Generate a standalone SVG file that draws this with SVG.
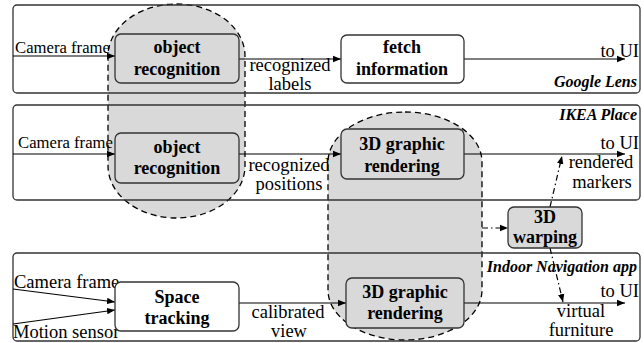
<svg xmlns="http://www.w3.org/2000/svg" width="644" height="343" viewBox="0 0 644 343">
<style>
.blob{fill:#d9d9d9;stroke:#000;stroke-width:1.3;stroke-dasharray:6,4}
.frame{fill:none;stroke:#333;stroke-width:1.3}
.box{stroke:#333;stroke-width:1.3}
.g{fill:#d9d9d9}
.w{fill:#fff}
.bt{font-family:"Liberation Serif",serif;font-weight:bold;font-size:18px;text-anchor:middle;fill:#000}
.lt{font-family:"Liberation Serif",serif;font-size:18.5px;fill:#000}
.sm{font-size:16.7px}
.c{text-anchor:middle}
.r{text-anchor:end}
.tt{font-family:"Liberation Serif",serif;font-weight:bold;font-style:italic;font-size:16px;text-anchor:end;fill:#000}
.ln{fill:none;stroke:#000;stroke-width:1.2}
.dd{fill:none;stroke:#000;stroke-width:1.2;stroke-dasharray:6,3,1.5,3}
</style>
<defs>
<marker id="ah" viewBox="0 0 10 10" refX="10" refY="5" markerWidth="8" markerHeight="8" markerUnits="userSpaceOnUse" orient="auto">
<path d="M0,1 L10,5 L0,9 Z" fill="#000"/>
</marker>
</defs>
<g id="groups">
<rect id="blob-recognition" class="blob" x="108" y="4" width="137" height="214" rx="68.5" ry="52"/>
<rect id="blob-rendering" class="blob" x="328" y="112" width="154" height="228" rx="77" ry="50"/>
</g>
<g id="frames">
<g id="frame-google"><rect class="frame" x="13" y="5" width="627" height="88" rx="4"/><text class="tt" x="637" y="87">Google Lens</text></g>
<g id="frame-ikea"><rect class="frame" x="13" y="105" width="627" height="95" rx="4"/><text class="tt" x="637" y="120">IKEA Place</text></g>
<g id="frame-indoor"><rect class="frame" x="13" y="253" width="627" height="88" rx="4"/><text class="tt" x="637" y="272">Indoor Navigation app</text></g>
</g>
<g id="connectors">
<line class="ln" x1="13" y1="56" x2="115" y2="56" marker-end="url(#ah)"/>
<line class="ln" x1="239" y1="59" x2="341" y2="59" marker-end="url(#ah)"/>
<line class="ln" x1="464" y1="59" x2="625" y2="59" marker-end="url(#ah)"/>
<line class="ln" x1="13" y1="154" x2="115" y2="154" marker-end="url(#ah)"/>
<line class="ln" x1="239" y1="154" x2="341" y2="154" marker-end="url(#ah)"/>
<line class="ln" x1="464" y1="154" x2="625" y2="154" marker-end="url(#ah)"/>
<line class="ln" x1="13" y1="289" x2="115" y2="302" marker-end="url(#ah)"/>
<line class="ln" x1="13" y1="324" x2="115" y2="310" marker-end="url(#ah)"/>
<line class="ln" x1="239" y1="303" x2="346" y2="303" marker-end="url(#ah)"/>
<line class="ln" x1="464" y1="303" x2="625" y2="303" marker-end="url(#ah)"/>
<line class="dd" x1="482" y1="228" x2="508" y2="228" marker-end="url(#ah)"/>
<line class="dd" x1="550" y1="207" x2="562" y2="156" marker-end="url(#ah)"/>
<line class="dd" x1="550" y1="248" x2="563" y2="302" marker-end="url(#ah)"/>
</g>
<g id="labels">
<text class="lt sm" x="15" y="53">Camera frame</text>
<text class="lt c" x="290" y="71">recognized</text>
<text class="lt c" x="290" y="90">labels</text>
<text class="lt r" x="639" y="57">to UI</text>
<text class="lt sm" x="18" y="148">Camera frame</text>
<text class="lt c" x="289" y="171">recognized</text>
<text class="lt c" x="289" y="190">positions</text>
<text class="lt r" x="639" y="149">to UI</text>
<text class="lt c" x="601" y="168">rendered</text>
<text class="lt c" x="602" y="188">markers</text>
<text class="lt" x="14" y="288">Camera frame</text>
<text class="lt" x="13" y="338">Motion sensor</text>
<text class="lt c" x="288" y="318">calibrated</text>
<text class="lt c" x="289" y="337">view</text>
<text class="lt r" x="639" y="297">to UI</text>
<text class="lt c" x="581" y="317">virtual</text>
<text class="lt c" x="581" y="336">furniture</text>
</g>
<g id="node-objrec1"><rect class="box g" x="115" y="34" width="124" height="49" rx="6"/><text class="bt" x="177" y="53">object</text><text class="bt" x="177" y="75">recognition</text></g>
<g id="node-fetch"><rect class="box w" x="341" y="35" width="123" height="48" rx="6"/><text class="bt" x="402" y="53">fetch</text><text class="bt" x="402" y="75">information</text></g>
<g id="node-objrec2"><rect class="box g" x="115" y="133" width="124" height="50" rx="6"/><text class="bt" x="177" y="153">object</text><text class="bt" x="177" y="174">recognition</text></g>
<g id="node-render1"><rect class="box g" x="341" y="129" width="123" height="50" rx="6"/><text class="bt" x="402" y="150">3D graphic</text><text class="bt" x="402" y="172">rendering</text></g>
<g id="node-warping"><rect class="box g" x="508" y="207" width="74" height="41" rx="6"/><text class="bt" x="545" y="223">3D</text><text class="bt" x="545" y="243">warping</text></g>
<g id="node-space"><rect class="box w" x="115" y="282" width="124" height="49" rx="6"/><text class="bt" x="177" y="303">Space</text><text class="bt" x="177" y="324">tracking</text></g>
<g id="node-render2"><rect class="box g" x="346" y="278" width="118" height="50" rx="6"/><text class="bt" x="405" y="298">3D graphic</text><text class="bt" x="405" y="319">rendering</text></g>
</svg>
